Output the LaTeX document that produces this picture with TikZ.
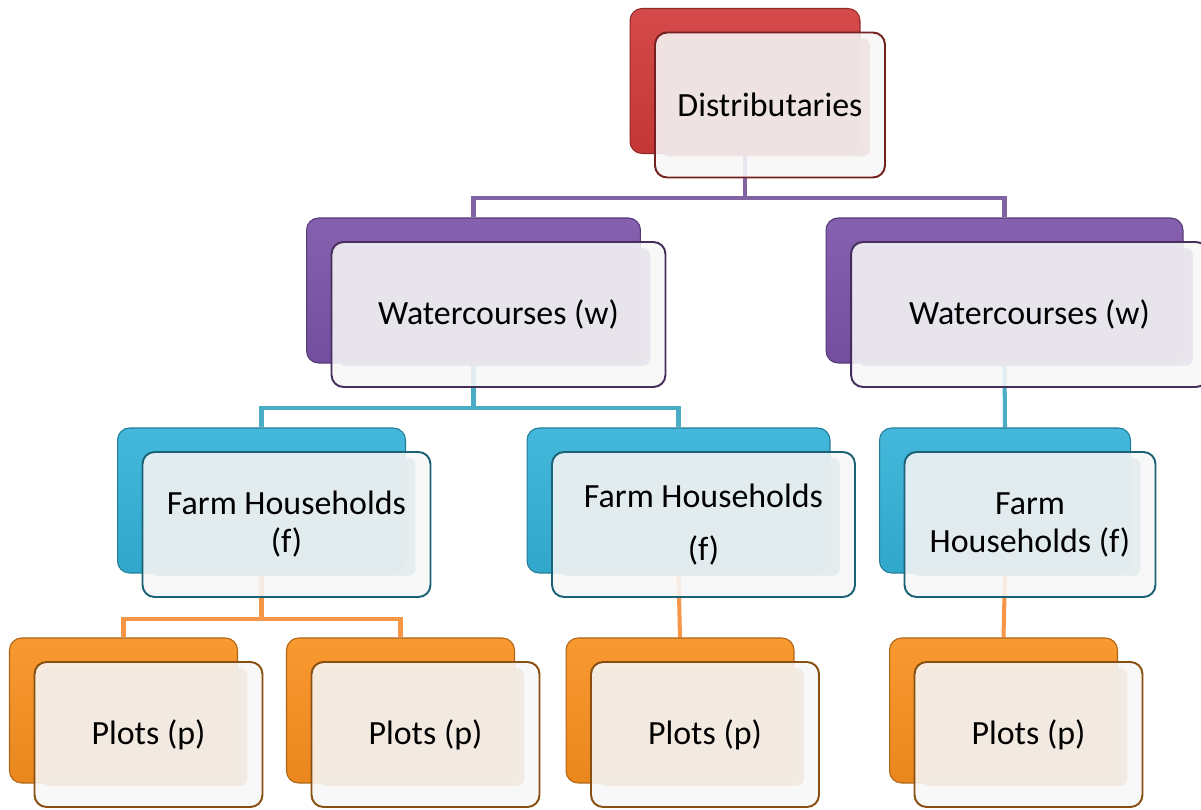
\documentclass[tikz,border=0pt]{standalone}
\usepackage{fontspec}
\setmainfont{Carlito}
\usetikzlibrary{positioning,backgrounds}

\definecolor{redB}{HTML}{D13A3A}
\definecolor{purpleB}{HTML}{7B53A8}
\definecolor{aquaB}{HTML}{33B2D8}
\definecolor{orangeB}{HTML}{F8901F}
\definecolor{purpleL}{HTML}{8064A2}
\definecolor{aquaL}{HTML}{4BACC6}
\definecolor{orangeL}{HTML}{F79646}

\begin{document}
\begin{tikzpicture}[x=0.02cm, y=-0.02cm, node distance = 0.48cm and 0.5cm, on grid,
back/.style={rectangle, rounded corners=0.24cm, minimum height=2.9cm, top color=#1!92!white, bottom color=#1!94!black, draw=#1!70!black, line width=0.6pt},
front/.style={rectangle, rounded corners=0.24cm, minimum height=2.9cm, draw=#1!55!black, line width=1.1pt, fill=white!97!black, fill opacity=0.88, text opacity=1, align=center, font=\fontsize{19.3}{21.6}\selectfont,
  path picture={\fill[#1!8!white!95!black, rounded corners=0.15cm] ([shift={(0.14cm,0.42cm)}]path picture bounding box.south west) rectangle ([shift={(-0.3cm,-0.12cm)}]path picture bounding box.north east);}},
link/.style={line width=2.3pt, draw=#1}]
\useasboundingbox (0,0) rectangle (1201,809);

% top level
\node[back=redB, minimum width=4.6cm] (distB) at (745,81) {};
\node[front=redB, minimum width=4.6cm, below right = of distB] (dist) {Distributaries};

% watercourses
\node[back=purpleB, minimum width=6.68cm] (wlB) at (473.5,290.5) {};
\node[front=purpleB, minimum width=6.68cm, below right = of wlB] (wl) {Watercourses (w)};
\node[back=purpleB, minimum width=7.14cm] (wrB) at (1004.5,290.5) {};
\node[front=purpleB, minimum width=7.14cm, below right = of wrB] (wr) {Watercourses (w)};

% farm households
\node[back=aquaB, minimum width=5.76cm] (flB) at (261.5,500.5) {};
\node[front=aquaB, minimum width=5.76cm, below right = of flB] (fl) {Farm Households\\(f)};
\node[back=aquaB, minimum width=6.06cm] (fmB) at (678.5,500.5) {};
\node[front=aquaB, minimum width=6.06cm, below right = of fmB] (fm) {Farm Households\\[9pt](f)};
\node[back=aquaB, minimum width=5.02cm] (frB) at (1005,500.5) {};
\node[front=aquaB, minimum width=5.02cm, below right = of frB] (fr) {Farm\\Households (f)};

% plots
\node[back=orangeB, minimum width=4.56cm] (p1B) at (123.5,710.5) {};
\node[front=orangeB, minimum width=4.56cm, below right = of p1B] (p1) {Plots (p)};
\node[back=orangeB, minimum width=4.56cm] (p2B) at (400.5,710.5) {};
\node[front=orangeB, minimum width=4.56cm, below right = of p2B] (p2) {Plots (p)};
\node[back=orangeB, minimum width=4.56cm] (p3B) at (680,710.5) {};
\node[front=orangeB, minimum width=4.56cm, below right = of p3B] (p3) {Plots (p)};
\node[back=orangeB, minimum width=4.56cm] (p4B) at (1003.5,710.5) {};
\node[front=orangeB, minimum width=4.56cm, below right = of p4B] (p4) {Plots (p)};

\coordinate (bus1) at (0,198);
\coordinate (bus2) at (0,408);
\coordinate (bus3) at (0,619);

\begin{scope}[on background layer]
\draw[link=purpleL] (distB.south) -- (distB.south |- bus1) -| (wlB.north);
\draw[link=purpleL] (distB.south |- bus1) -| (wrB.north);
\draw[link=aquaL] (wlB.south) -- (wlB.south |- bus2) -| (flB.north);
\draw[link=aquaL] (wlB.south |- bus2) -| (fmB.north);
\draw[link=aquaL] (wrB.south) -- (frB.north);
\draw[link=orangeL] (flB.south) -- (flB.south |- bus3) -| (p1B.north);
\draw[link=orangeL] (flB.south |- bus3) -| (p2B.north);
\draw[link=orangeL] (fmB.south) -- (p3B.north);
\draw[link=orangeL] (frB.south) -- (p4B.north);
\end{scope}
\end{tikzpicture}
\end{document}
